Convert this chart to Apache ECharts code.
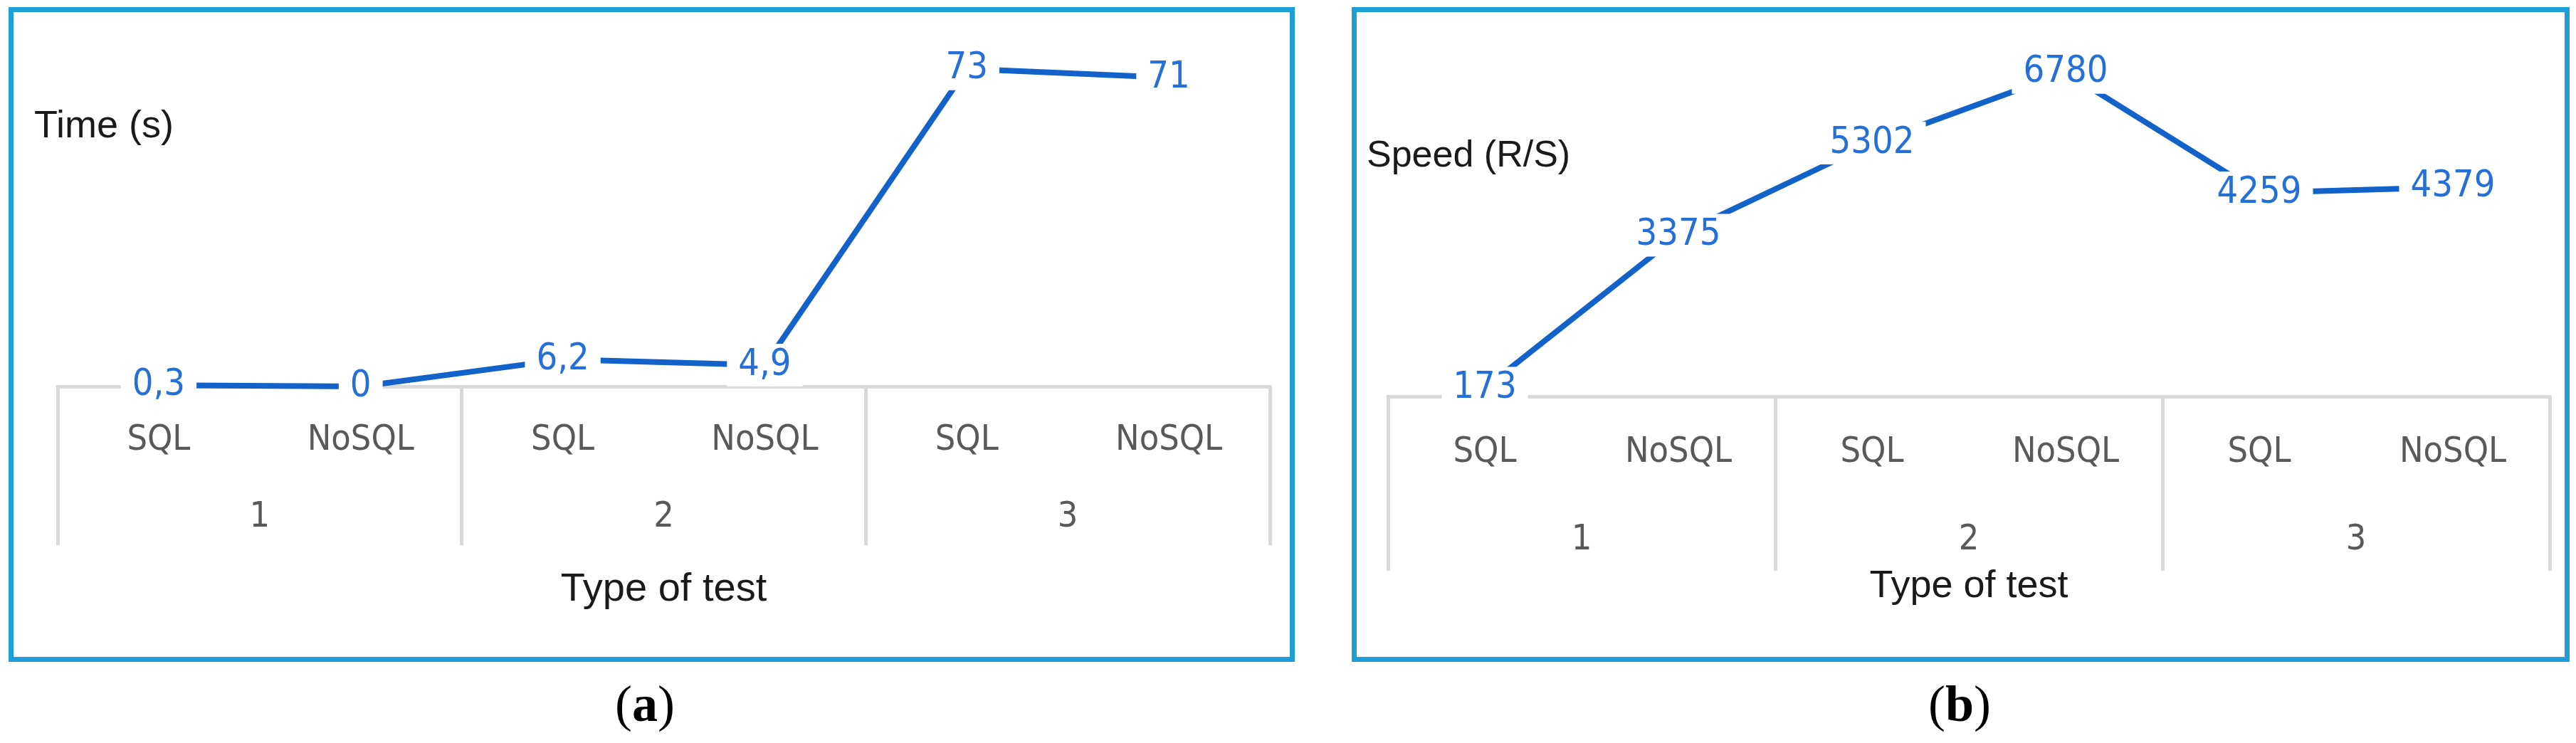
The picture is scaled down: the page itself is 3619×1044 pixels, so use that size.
<!DOCTYPE html>
<html>
<head>
<meta charset="utf-8">
<title>Time and speed by type of test</title>
<script src="https://cdn.jsdelivr.net/npm/echarts@6/dist/echarts.min.js"></script>
<style>
  html, body { margin: 0; padding: 0; background: #fff; }
  #chart { width: 3619px; height: 1044px; }
</style>
</head>
<body>
<div id="chart"></div>
<script>
// data
const testTypes = ['1', '2', '3'];
const dbKinds = ['SQL', 'NoSQL', 'SQL', 'NoSQL', 'SQL', 'NoSQL'];
const timeSeconds = [0.3, 0, 6.2, 4.9, 73, 71];
const speedRps = [173, 3375, 5302, 6780, 4259, 4379];

const NARROW = "'Liberation Sans Narrow', 'DejaVu Sans Condensed', sans-serif";
const SANS = "'Liberation Sans', Arial, sans-serif";
const SERIF = "'Liberation Serif', 'Times New Roman', serif";
const GRAY_LINE = '#d9d9d9';
const BLUE_LINE = '#1262c9';
const BLUE_TEXT = '#2470d8';
const FRAME = '#1e9ed9';

const chart = echarts.init(document.getElementById('chart'));

// two x axes per panel: the series names, then the test group with divider ticks
function kindAxis(gridIndex, labelMargin, title, titleGap, titleSize) {
  return {
    type: 'category',
    gridIndex: gridIndex,
    data: dbKinds,
    position: 'bottom',
    offset: 0,
    axisLine: { lineStyle: { color: GRAY_LINE, width: 5 } },
    axisTick: { show: false },
    axisLabel: {
      interval: 0,
      margin: labelMargin,
      color: '#595959',
      fontFamily: NARROW,
      fontSize: 50
    },
    name: title,
    nameLocation: 'middle',
    nameGap: titleGap,
    nameTextStyle: { color: '#1a1a1a', fontFamily: SANS, fontSize: titleSize }
  };
}

function groupAxis(gridIndex, labelMargin, tickLen) {
  return {
    type: 'category',
    gridIndex: gridIndex,
    data: testTypes,
    position: 'bottom',
    offset: 0,
    axisLine: { show: false },
    axisTick: { show: true, length: tickLen, lineStyle: { color: GRAY_LINE, width: 5 } },
    axisLabel: {
      interval: 0,
      margin: labelMargin,
      color: '#595959',
      fontFamily: NARROW,
      fontSize: 50
    }
  };
}

function lineSeries(axisIndex, values, fmt) {
  return {
    type: 'line',
    xAxisIndex: axisIndex,
    yAxisIndex: axisIndex / 2,
    data: values,
    symbol: 'circle',
    symbolSize: 1,
    lineStyle: { color: BLUE_LINE, width: 8 },
    itemStyle: { color: BLUE_LINE },
    z: 5,
    label: {
      show: true,
      position: 'inside',
      formatter: fmt,
      color: BLUE_TEXT,
      fontFamily: NARROW,
      fontSize: 52,
      backgroundColor: '#fff',
      padding: [4, 16]
    },
    emphasis: { disabled: true }
  };
}

const option = {
  backgroundColor: '#fff',
  animation: false,
  grid: [
    { left: 81, right: 1835, top: 54, bottom: 501 },
    { left: 1950, right: 37, top: 87, bottom: 487 }
  ],
  xAxis: [
    kindAxis(0, 51, 'Type of test', 258, 56),
    groupAxis(0, 159, 223),
    kindAxis(1, 54, 'Type of test', 240, 54),
    groupAxis(1, 177, 245)
  ],
  yAxis: [
    { type: 'value', gridIndex: 0, min: 0, max: 80, show: false },
    { type: 'value', gridIndex: 1, min: 0, max: 7000, show: false }
  ],
  series: [
    lineSeries(0, timeSeconds, p => String(p.value).replace('.', ',')),
    lineSeries(2, speedRps, p => String(p.value))
  ],
  graphic: [
    { type: 'rect', shape: { x: 15.5, y: 13.5, width: 1800, height: 913 },
      style: { fill: null, stroke: FRAME, lineWidth: 7 }, z: 10 },
    { type: 'rect', shape: { x: 1902.5, y: 13.5, width: 1704, height: 913 },
      style: { fill: null, stroke: FRAME, lineWidth: 7 }, z: 10 },
    { type: 'text', x: 48, y: 178,
      style: { text: 'Time (s)', font: "54px 'Liberation Sans', Arial, sans-serif",
        fill: '#1a1a1a', verticalAlign: 'middle' } },
    { type: 'text', x: 1920, y: 220,
      style: { text: 'Speed (R/S)', font: "52px 'Liberation Sans', Arial, sans-serif",
        fill: '#1a1a1a', verticalAlign: 'middle' } },
    { type: 'text', x: 906, y: 994,
      style: { text: '{p|(}{b|a}{p|)}', align: 'center', verticalAlign: 'middle',
        rich: {
          p: { fontFamily: SERIF, fontSize: 72, fill: '#000' },
          b: { fontFamily: SERIF, fontSize: 72, fontWeight: 'bold', fill: '#000' }
        } } },
    { type: 'text', x: 2753, y: 994,
      style: { text: '{p|(}{b|b}{p|)}', align: 'center', verticalAlign: 'middle',
        rich: {
          p: { fontFamily: SERIF, fontSize: 72, fill: '#000' },
          b: { fontFamily: SERIF, fontSize: 72, fontWeight: 'bold', fill: '#000' }
        } } }
  ]
};

chart.setOption(option);
window.addEventListener('resize', () => chart.resize());
</script>
</body>
</html>
